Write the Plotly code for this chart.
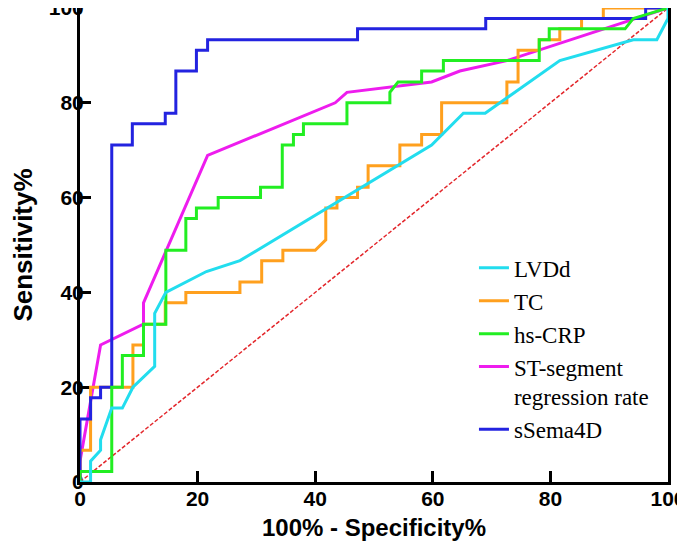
import plotly.graph_objects as go

# ROC curve coordinates: x = 100% - Specificity%, y = Sensitivity%
lvdd_x = [0, 1.8, 1.8, 3.5, 3.5, 5.4, 7.2, 9.0, 12.7, 12.7, 14.6, 21.5, 27.2, 59.8, 65.2, 68.9, 81.6, 94.1, 98.1, 100, 100]
lvdd_y = [0, 0, 4.4, 6.7, 8.9, 15.6, 15.6, 20.0, 24.4, 35.6, 40.0, 44.4, 46.7, 71.1, 77.8, 77.8, 88.9, 93.3, 93.3, 97.8, 100]

tc_x = [0, 0, 1.8, 1.8, 9.0, 9.0, 10.8, 10.8, 14.5, 14.5, 18.0, 18.0, 27.2, 27.2, 30.9, 30.9, 34.5, 34.5, 40.0, 41.8, 41.8,
        43.7, 43.7, 47.2, 47.2, 49.0, 49.0, 54.4, 54.4, 58.1, 58.1, 61.5, 61.5, 72.6, 72.6, 74.5, 74.5, 78.1, 78.1,
        81.6, 81.6, 85.3, 85.3, 89.0, 89.0, 100]
tc_y = [0, 6.7, 6.7, 20.0, 20.0, 28.9, 28.9, 33.3, 33.3, 37.8, 37.8, 40.0, 40.0, 42.2, 42.2, 46.7, 46.7, 48.9, 48.9, 51.1, 57.8,
        57.8, 60.0, 60.0, 62.2, 62.2, 66.7, 66.7, 71.1, 71.1, 73.3, 73.3, 80.0, 80.0, 84.4, 84.4, 91.1, 91.1, 93.3,
        93.3, 95.6, 95.6, 97.8, 97.8, 100, 100]

crp_x = [0, 0, 5.4, 5.4, 7.2, 7.2, 10.8, 10.8, 14.6, 14.6, 18.0, 18.0, 19.8, 19.8, 23.5, 23.5, 30.7, 30.7, 34.4, 34.4,
         36.3, 36.3, 38.0, 38.0, 45.4, 45.4, 52.7, 52.7, 54.1, 58.1, 58.1, 61.8, 61.8, 78.1, 78.1, 79.8, 79.8, 92.7, 94.1, 100]
crp_y = [0, 2.2, 2.2, 20.0, 20.0, 26.7, 26.7, 33.3, 33.3, 48.9, 48.9, 55.6, 55.6, 57.8, 57.8, 60.0, 60.0, 62.2, 62.2, 71.1,
         71.1, 73.3, 73.3, 75.6, 75.6, 80.0, 80.0, 82.2, 84.4, 84.4, 86.7, 86.7, 88.9, 88.9, 93.3, 93.3, 95.6, 95.6, 97.8, 100]

st_x = [0, 0, 3.5, 10.8, 10.8, 21.7, 43.4, 45.4, 59.8, 64.6, 72.6, 100]
st_y = [0, 4.4, 28.9, 33.3, 37.8, 68.9, 80.0, 82.2, 84.4, 86.7, 88.9, 100]

sema_x = [0, 0, 1.8, 1.8, 3.5, 3.5, 5.4, 5.4, 8.9, 8.9, 14.5, 14.5, 16.3, 16.3, 19.8, 19.8, 21.7, 21.7,
          47.2, 47.2, 69.0, 69.0, 96.2, 96.2, 100]
sema_y = [0, 13.3, 13.3, 17.8, 17.8, 20.0, 20.0, 71.1, 71.1, 75.6, 75.6, 77.8, 77.8, 86.7, 86.7, 91.1, 91.1, 93.3,
          93.3, 95.6, 95.6, 97.8, 97.8, 100, 100]

ref_x = [0, 100]
ref_y = [0, 100]

tick_vals = [0, 20, 40, 60, 80, 100]

fig = go.Figure()

fig.add_trace(go.Scatter(x=ref_x, y=ref_y, mode="lines", showlegend=False,
                         line=dict(color="#e3262b", width=1.5, dash="4px,2px"), hoverinfo="skip"))
fig.add_trace(go.Scatter(x=st_x, y=st_y, mode="lines", name="ST-segment<br>regression rate", legendrank=4,
                         line=dict(color="#ee1cee", width=3)))
fig.add_trace(go.Scatter(x=tc_x, y=tc_y, mode="lines", name="TC", legendrank=2,
                         line=dict(color="#ffa01e", width=3)))
fig.add_trace(go.Scatter(x=sema_x, y=sema_y, mode="lines", name="sSema4D", legendrank=5,
                         line=dict(color="#2323e0", width=3)))
fig.add_trace(go.Scatter(x=crp_x, y=crp_y, mode="lines", name="hs-CRP", legendrank=3,
                         line=dict(color="#22ee22", width=3)))
fig.add_trace(go.Scatter(x=lvdd_x, y=lvdd_y, mode="lines", name="LVDd", legendrank=1,
                         line=dict(color="#22ddee", width=3)))

axis_common = dict(
    range=[0, 100],
    tickvals=tick_vals,
    ticks="inside",
    ticklen=11,
    tickwidth=3,
    tickcolor="black",
    showline=True,
    linecolor="black",
    linewidth=3,
    mirror=True,
    showgrid=False,
    zeroline=False,
    layer="below traces",
    automargin=False,
    ticklabeloverflow="allow",
    tickfont=dict(family="Liberation Sans, Arial", size=21, color="black", weight="bold"),
)

# the page body adds an 8px offset, so the margins are shifted to compensate
fig.update_layout(
    width=685,
    height=544,
    margin=dict(l=72, r=25, t=0, b=70),
    paper_bgcolor="white",
    plot_bgcolor="white",
    xaxis=dict(axis_common, ticklabelstandoff=-4,
               title=dict(text="100% - Specificity%", standoff=10,
                          font=dict(family="Liberation Sans, Arial", size=24, color="black", weight="bold"))),
    yaxis=dict(axis_common, ticklabelstandoff=-11,
               title=dict(text="Sensitivity%", standoff=20,
                          font=dict(family="Liberation Sans, Arial", size=26, color="black", weight="bold"))),
    legend=dict(
        x=0.67, y=0.497, xanchor="left", yanchor="top",
        bgcolor="rgba(0,0,0,0)", borderwidth=0,
        font=dict(family="Liberation Serif, Times New Roman", size=23, color="black"),
        valign="top",
        tracegroupgap=0,
    ),
    showlegend=True,
)

fig.write_html("out.html")
